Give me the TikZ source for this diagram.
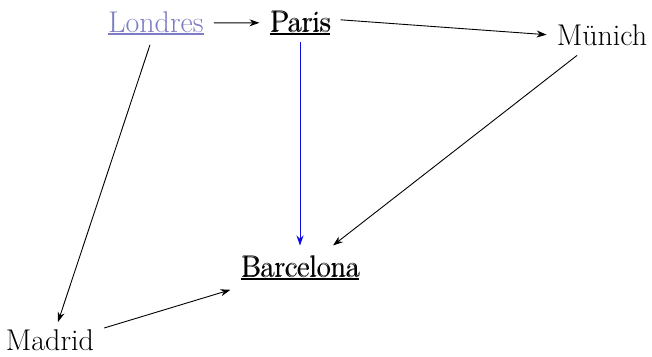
\documentclass[tikz,border=0pt]{standalone}
\usepackage{fontspec}
\usetikzlibrary{arrows.meta,calc}
\definecolor{lav}{RGB}{125,125,195}
\definecolor{arrblue}{RGB}{10,10,230}
\newcommand{\myul}[1]{\setbox0\hbox{#1}\rlap{\rule[-2.6pt]{\wd0}{1.3pt}}\box0}
\newcommand{\dbl}[1]{\rlap{\kern0.9pt\raisebox{0.5pt}{#1}}#1}
\tikzset{
  city/.style={font=\fontsize{30}{33}\selectfont, inner xsep=10pt, inner ysep=10pt, anchor=base},
  conn/.style={-{Stealth[length=10pt,width=7pt]}, line width=0.9pt, black},
}
\begin{document}
\begin{tikzpicture}[x=1pt,y=-1pt]
\useasboundingbox (0,0) rectangle (652,356);
\node[city, text=lav] (londres) at (156,32) {\myul{Londres}};
\node[city] (paris) at (300,32) {\myul{\dbl{Paris}}};
\node[city] (munich) at (602,45) {Münich};
\node[city] (barcelona) at (300,277) {\myul{\dbl{Barcelona}}};
\node[city] (madrid) at (50,350) {Madrid};
\draw[conn] (londres.east) -- (paris.west);
\draw[conn] ([yshift=3pt]paris.east) -- (munich.west);
\draw[conn, arrblue] ([yshift=3pt]paris.south) -- (barcelona.north);
\draw[conn] ([xshift=-25pt]munich.south) -- ([xshift=33pt]barcelona.north);
\draw[conn] ([xshift=-6pt]londres.south) -- ([xshift=8pt,yshift=-3pt]madrid.north);
\draw[conn] ([yshift=-9pt]madrid.north east) -- (barcelona.south west);
\end{tikzpicture}
\end{document}
